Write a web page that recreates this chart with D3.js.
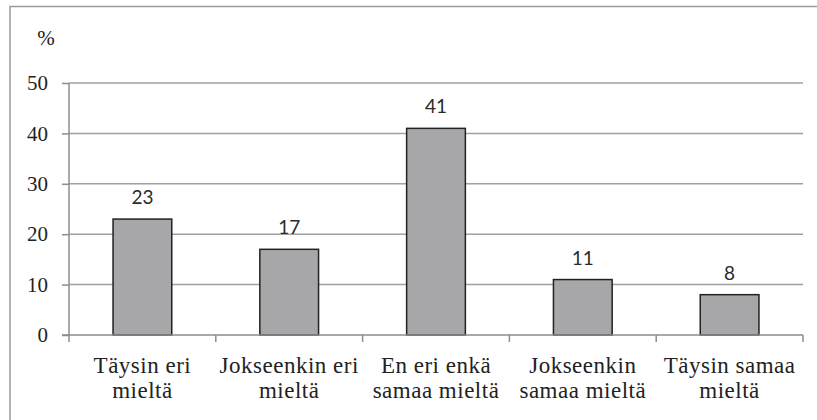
<!DOCTYPE html>
<html>
<head>
<meta charset="utf-8">
<script src="https://cdn.jsdelivr.net/npm/d3@7"></script>
<style>
  body { margin: 0; background: #fff; }
  .serif { font-family: 'Liberation Serif', 'Times New Roman', 'DejaVu Serif', serif; }
</style>
</head>
<body>
<svg id="chart" width="817" height="420"></svg>
<script>
const categories = [
  ['Täysin eri', 'mieltä'],
  ['Jokseenkin eri', 'mieltä'],
  ['En eri enkä', 'samaa mieltä'],
  ['Jokseenkin', 'samaa mieltä'],
  ['Täysin samaa', 'mieltä']
];
const values = [23, 17, 41, 11, 8];
const yTicks = [0, 10, 20, 30, 40, 50];

const margin = { top: 83, right: 14, bottom: 85, left: 69 },
  width = 817,
  height = 420;

const svg = d3.select('#chart');

// outer frame (only top and left edges are visible in the picture)
svg
  .append('rect')
  .attr('x', 10)
  .attr('y', 6.5)
  .attr('width', 840)
  .attr('height', 440)
  .attr('fill', 'none')
  .attr('stroke', '#9a9a9a')
  .attr('stroke-width', 1.5);

const x = d3
  .scaleBand()
  .domain(d3.range(categories.length))
  .range([margin.left, width - margin.right])
  .padding(0);

const y = d3
  .scaleLinear()
  .domain([0, 50])
  .range([height - margin.bottom, margin.top]);

// gridlines
svg
  .append('g')
  .selectAll('line')
  .data(yTicks.slice(1))
  .join('line')
  .attr('x1', margin.left)
  .attr('x2', width - margin.right)
  .attr('y1', d => y(d))
  .attr('y2', d => y(d))
  .attr('stroke', '#a0a0a0')
  .attr('stroke-width', 1.5);

// y axis
svg
  .append('g')
  .attr('transform', `translate(${margin.left},0)`)
  .call(d3.axisLeft(y).tickValues(yTicks).tickSize(7).tickPadding(14))
  .call(g => g.attr('font-family', null).attr('font-size', null))
  .call(g => g.selectAll('line, path').attr('stroke', '#8c8c8c').attr('stroke-width', 1.5))
  .call(g => g.select('.domain').attr('d', `M0,${y(50)}V${y(0)}`))
  .selectAll('text')
  .attr('class', 'serif')
  .style('font-size', '21px')
  .attr('fill', '#222');

svg
  .append('text')
  .attr('class', 'serif')
  .attr('x', 46)
  .attr('y', 45)
  .attr('text-anchor', 'middle')
  .style('font-size', '21px')
  .attr('fill', '#222')
  .text('%');

// bars
const barW = x.bandwidth() * 0.4;
svg
  .append('g')
  .selectAll('rect')
  .data(values)
  .join('rect')
  .attr('x', (d, i) => x(i) + (x.bandwidth() - barW) / 2)
  .attr('y', d => y(d))
  .attr('width', barW)
  .attr('height', d => y(0) - y(d))
  .attr('fill', '#a7a7a9')
  .attr('stroke', '#222')
  .attr('stroke-width', 1.5);

// value labels
svg
  .append('g')
  .selectAll('text')
  .data(values)
  .join('text')
  .attr('x', (d, i) => x(i) + x.bandwidth() / 2)
  .attr('y', d => y(d) - 15)
  .attr('text-anchor', 'middle')
  .style('font-family', 'Lato, sans-serif')
  .style('font-size', '19px')
  .attr('fill', '#2a2a2a')
  .text(d => d);

// x axis
const xAxis = svg
  .append('g')
  .attr('transform', `translate(0,${y(0)})`);

xAxis
  .append('line')
  .attr('x1', margin.left - 7)
  .attr('x2', width - margin.right)
  .attr('stroke', '#8c8c8c')
  .attr('stroke-width', 1.5);

xAxis
  .selectAll('.tick')
  .data(d3.range(categories.length + 1))
  .join('line')
  .attr('x1', i => (i < categories.length ? x(i) : x(i - 1) + x.bandwidth()))
  .attr('x2', i => (i < categories.length ? x(i) : x(i - 1) + x.bandwidth()))
  .attr('y1', 0)
  .attr('y2', 7)
  .attr('stroke', '#8c8c8c')
  .attr('stroke-width', 1.5);

xAxis
  .selectAll('text')
  .data(categories)
  .join('text')
  .attr('class', 'serif')
  .attr('x', (d, i) => x(i) + x.bandwidth() / 2)
  .attr('y', 38)
  .attr('text-anchor', 'middle')
  .style('font-size', '23px')
  .style('letter-spacing', '0.5px')
  .attr('fill', '#222')
  .selectAll('tspan')
  .data(d => d)
  .join('tspan')
  .attr('x', function () { return this.parentNode.getAttribute('x'); })
  .attr('dy', (d, i) => (i === 0 ? 0 : 25))
  .text(d => d);
</script>
</body>
</html>
